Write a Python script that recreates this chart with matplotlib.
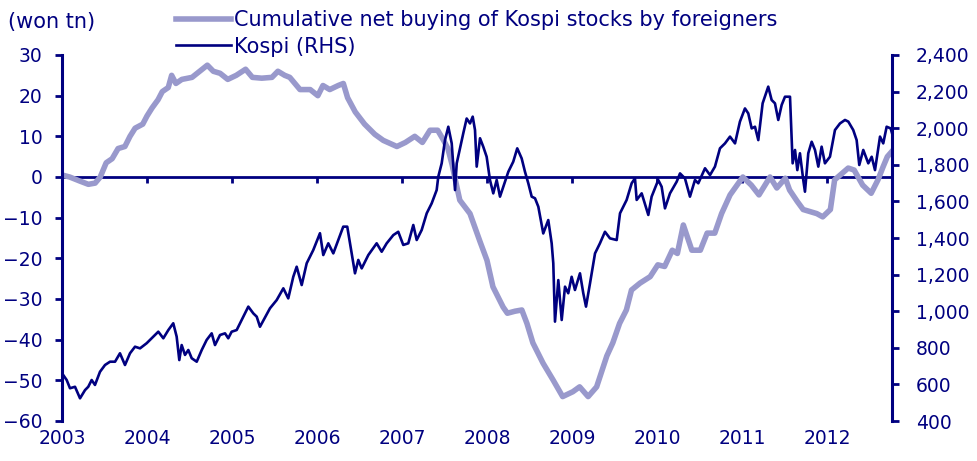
import matplotlib.pyplot as plt
import matplotlib.ticker as mticker

# cumulative net buying of Kospi stocks by foreigners (won tn), decimal years
fx_t = [2003.00, 2003.09, 2003.21, 2003.31, 2003.39, 2003.45, 2003.52, 2003.59, 2003.66, 2003.74,
        2003.80, 2003.86, 2003.95, 2004.00, 2004.06, 2004.13, 2004.18, 2004.25, 2004.29, 2004.34,
        2004.41, 2004.53, 2004.62, 2004.71, 2004.78, 2004.86, 2004.95, 2005.05, 2005.16, 2005.24,
        2005.35, 2005.47, 2005.54, 2005.62, 2005.68, 2005.80, 2005.92, 2006.01, 2006.07, 2006.15,
        2006.25, 2006.31, 2006.36, 2006.45, 2006.56, 2006.68, 2006.78, 2006.94, 2007.04, 2007.15,
        2007.24, 2007.33, 2007.42, 2007.49, 2007.54, 2007.59, 2007.62, 2007.68, 2007.80, 2007.92,
        2008.00, 2008.07, 2008.19, 2008.24, 2008.33, 2008.41, 2008.47, 2008.54, 2008.66, 2008.78,
        2008.89, 2009.01, 2009.09, 2009.19, 2009.29, 2009.41, 2009.48, 2009.56, 2009.64, 2009.70,
        2009.80, 2009.92, 2010.01, 2010.09, 2010.18, 2010.24, 2010.31, 2010.41, 2010.51, 2010.59,
        2010.68, 2010.76, 2010.86, 2011.01, 2011.11, 2011.20, 2011.33, 2011.41, 2011.51, 2011.56,
        2011.65, 2011.72, 2011.88, 2011.95, 2012.04, 2012.09, 2012.25, 2012.32, 2012.42, 2012.52,
        2012.60, 2012.66, 2012.71, 2012.76]
fx_v = [0.5, 0, -1, -1.8, -1.5, 0, 3.5, 4.5, 7, 7.5,
        10, 12, 13, 15, 17, 19, 21, 22, 25, 23,
        24, 24.5, 26, 27.5, 26, 25.5, 24, 25, 26.5, 24.5,
        24.3, 24.5, 26, 25, 24.5, 21.5, 21.5, 20, 22.5, 21.5,
        22.5, 23, 19.5, 16, 13, 10.5, 9, 7.5, 8.5, 10,
        8.5, 11.5, 11.5, 9, 7, 3, 0, -5.7, -9, -16,
        -20.5, -27, -32, -33.5, -33, -32.7, -36, -40.8, -45.8, -50,
        -54, -52.8, -51.6, -54, -51.6, -44, -40.8, -36, -32.7, -27.8,
        -26.1, -24.5, -21.6, -22, -18, -18.8, -11.8, -18, -18, -13.8,
        -13.8, -9, -4.4, 0, -2, -4.4, 0, -2.7, -0.3, -3.2,
        -6, -8, -9, -9.8, -8, -0.7, 2.2, 1.7, -2, -4,
        -0.7, 2.5, 5, 6.2]

# Kospi index (RHS)
kospi_t = [2003.015, 2003.055, 2003.094, 2003.153, 2003.212, 2003.271, 2003.309, 2003.349, 2003.388, 2003.447,
           2003.506, 2003.565, 2003.624, 2003.682, 2003.741, 2003.800, 2003.859, 2003.918, 2003.996, 2004.074,
           2004.133, 2004.192, 2004.251, 2004.309, 2004.349, 2004.380, 2004.408, 2004.447, 2004.486, 2004.526,
           2004.585, 2004.644, 2004.702, 2004.761, 2004.800, 2004.859, 2004.918, 2004.956, 2004.996, 2005.055,
           2005.114, 2005.192, 2005.251, 2005.291, 2005.329, 2005.447, 2005.526, 2005.604, 2005.662, 2005.721,
           2005.761, 2005.820, 2005.879, 2005.956, 2006.035, 2006.074, 2006.133, 2006.192, 2006.251, 2006.309,
           2006.356, 2006.408, 2006.447, 2006.486, 2006.526, 2006.604, 2006.702, 2006.761, 2006.820, 2006.898,
           2006.956, 2007.015, 2007.074, 2007.133, 2007.173, 2007.232, 2007.291, 2007.349, 2007.408, 2007.427,
           2007.467, 2007.506, 2007.545, 2007.585, 2007.624, 2007.644, 2007.682, 2007.721, 2007.761, 2007.800,
           2007.832, 2007.859, 2007.879, 2007.918, 2007.956, 2007.996, 2008.035, 2008.074, 2008.114, 2008.153,
           2008.192, 2008.251, 2008.309, 2008.356, 2008.408, 2008.447, 2008.486, 2008.526, 2008.565, 2008.604,
           2008.662, 2008.721, 2008.761, 2008.780, 2008.800, 2008.839, 2008.879, 2008.918, 2008.956, 2008.996,
           2009.035, 2009.094, 2009.133, 2009.165, 2009.212, 2009.271, 2009.329, 2009.388, 2009.447, 2009.526,
           2009.565, 2009.643, 2009.702, 2009.741, 2009.761, 2009.820, 2009.898, 2009.937, 2010.015, 2010.055,
           2010.094, 2010.153, 2010.232, 2010.271, 2010.329, 2010.388, 2010.447, 2010.486, 2010.565, 2010.624,
           2010.682, 2010.741, 2010.800, 2010.859, 2010.918, 2010.976, 2011.035, 2011.074, 2011.114, 2011.153,
           2011.192, 2011.243, 2011.309, 2011.349, 2011.388, 2011.427, 2011.467, 2011.506, 2011.565, 2011.596,
           2011.624, 2011.651, 2011.682, 2011.721, 2011.741, 2011.780, 2011.820, 2011.859, 2011.898, 2011.937,
           2011.976, 2012.035, 2012.094, 2012.153, 2012.212, 2012.251, 2012.309, 2012.349, 2012.380, 2012.427,
           2012.486, 2012.526, 2012.565, 2012.624, 2012.662, 2012.702, 2012.749, 2012.765]
kospi_v = [651, 624, 579, 587, 524, 569, 587, 624, 597, 669,
           706, 724, 724, 770, 706, 770, 806, 797, 825, 861,
           888, 852, 897, 934, 861, 733, 815, 761, 788, 743,
           724, 788, 843, 879, 815, 870, 879, 852, 888, 897,
           952, 1025, 988, 970, 915, 1016, 1061, 1125, 1070, 1188,
           1243, 1143, 1262, 1334, 1426, 1307, 1371, 1316, 1389, 1462,
           1462, 1316, 1207, 1280, 1234, 1307, 1371, 1325, 1371, 1416,
           1434, 1362, 1371, 1471, 1389, 1444, 1535, 1589, 1662, 1735,
           1808, 1935, 2008, 1917, 1662, 1808, 1890, 1972, 2053, 2026,
           2063, 1990, 1790, 1945, 1899, 1844, 1717, 1644, 1717, 1626,
           1680, 1762, 1817, 1890, 1835, 1762, 1699, 1626, 1617, 1571,
           1425, 1498, 1371, 1262, 943, 1170, 952, 1134, 1098, 1188,
           1116, 1207, 1098, 1025, 1152, 1316, 1371, 1434, 1398, 1389,
           1535, 1608, 1699, 1726, 1608, 1644, 1526, 1626, 1717, 1680,
           1562, 1644, 1708, 1753, 1726, 1626, 1717, 1699, 1781, 1744,
           1790, 1890, 1917, 1954, 1917, 2036, 2108, 2081, 1999, 2008,
           1935, 2136, 2227, 2154, 2136, 2045, 2127, 2172, 2172, 1808,
           1881, 1771, 1863, 1717, 1653, 1863, 1926, 1881, 1790, 1899,
           1808, 1844, 1990, 2026, 2045, 2036, 1990, 1935, 1799, 1881,
           1808, 1844, 1771, 1954, 1917, 2008, 1999, 1973]

years = list(range(2003, 2013))

navy = '#000080'
lilac = '#9999cc'
plt.rcParams['font.family'] = ['DejaVu Sans']
plt.rcParams['font.size'] = 13.5

fig = plt.figure(figsize=(9.78, 4.61), dpi=100)
ax = fig.add_axes([62 / 978, 1 - 421 / 461, 830 / 978, 366 / 461])
ax2 = ax.twinx()

l1, = ax.plot(fx_t, fx_v, color=lilac, lw=4, solid_joinstyle='round',
              label='Cumulative net buying of Kospi stocks by foreigners')
l2, = ax2.plot(kospi_t, kospi_v, color=navy, lw=1.9, label='Kospi (RHS)')

ax.set_xlim(2003, 2012.765)
ax.set_ylim(-60, 30)
ax.set_yticks(range(-60, 31, 10))
ax2.set_ylim(400, 2400)
ax2.set_yticks(range(400, 2401, 200))
ax2.yaxis.set_major_formatter(mticker.StrMethodFormatter('{x:,.0f}'))

for s in ['top', 'bottom']:
    ax.spines[s].set_visible(False)
    ax2.spines[s].set_visible(False)
ax2.spines['left'].set_visible(False)
ax.spines['right'].set_visible(False)
ax.spines['left'].set_color(navy)
ax.spines['left'].set_linewidth(2.2)
ax2.spines['right'].set_color(navy)
ax2.spines['right'].set_linewidth(2.2)

ax.tick_params(axis='y', colors=navy, length=5, width=2, pad=9)
ax2.tick_params(axis='y', colors=navy, length=5, width=2, pad=12)
ax.set_xticks(years)
ax.set_xticklabels([str(y) for y in years])
ax.tick_params(axis='x', colors=navy, length=0, pad=6)

# zero line with year ticks hanging below it
sec = ax.secondary_xaxis(2 / 3)
sec.set_alignment('bottom')
sec.set_xticks(years)
sec.set_xticklabels([])
sec.tick_params(axis='x', colors=navy, length=4, width=2, direction='out')
sec.spines['bottom'].set_color(navy)
sec.spines['bottom'].set_linewidth(2)
sec.spines['top'].set_visible(False)

fig.text(8 / 978, 1 - 22 / 461, '(won tn)', color=navy, va='center', ha='left', fontsize=15)
fig.legend(handles=[l1, l2], loc='upper left', bbox_to_anchor=(166 / 978, 1.0), frameon=False,
           fontsize=15, handlelength=2.6, handletextpad=0.15, labelspacing=0.3, borderpad=0.0,
           labelcolor=navy)

fig.savefig('out.png', dpi=100)
